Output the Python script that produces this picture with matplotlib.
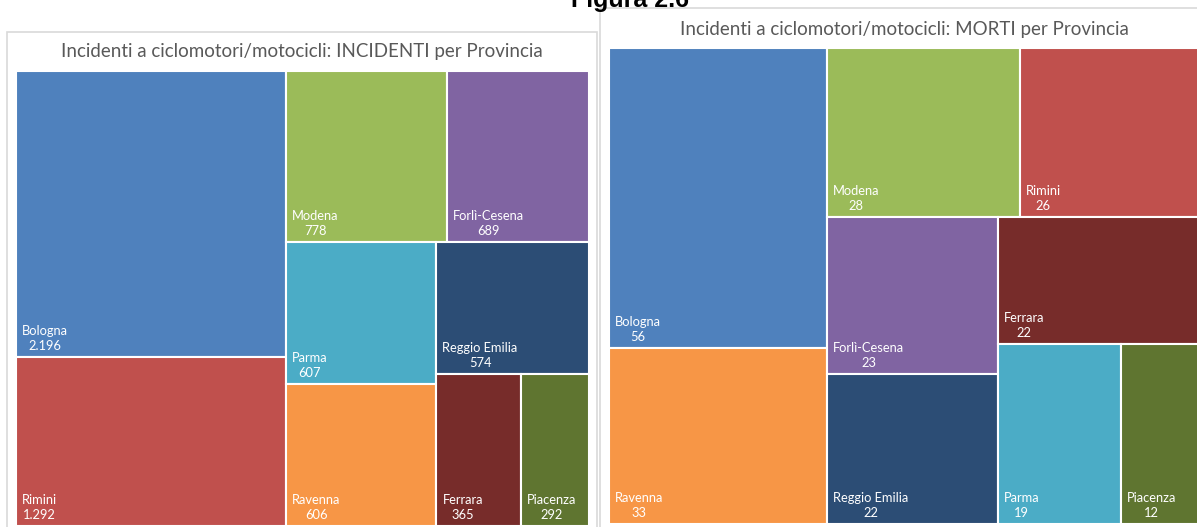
import matplotlib
matplotlib.use("Agg")
import matplotlib.pyplot as plt
from matplotlib.patches import Rectangle

# ---------------- data ----------------
provinces = ["Bologna", "Rimini", "Modena", "Forlì-Cesena", "Parma",
             "Ravenna", "Reggio Emilia", "Ferrara", "Piacenza"]
incidenti = [2196, 1292, 778, 689, 607, 606, 574, 365, 292]
morti = [56, 26, 28, 23, 19, 33, 22, 22, 12]
colors = ["#4F81BD", "#C0504D", "#9BBB59", "#8064A2", "#4BACC6",
          "#F79646", "#2C4D75", "#772C2A", "#5F7530"]
title_left = "Incidenti a ciclomotori/motocicli: INCIDENTI per Provincia"
title_right = "Incidenti a ciclomotori/motocicli: MORTI per Provincia"
fig_title = "Figura 2.6"

W, H, DPI = 1197, 527, 100
FONT = "Lato"


def worst(row, side):
    s = sum(row)
    t = s / side
    return max(max(t / (r / t), (r / t) / t) for r in row)


def squarify(vals, x, y, w, h):
    total = sum(v for _, v in vals)
    scale = w * h / total
    items = [(i, v * scale) for i, v in vals]
    out = {}
    while items:
        if len(items) == 1:
            out[items[0][0]] = (x, y, w, h)
            break
        side = h if w >= h else w
        row = [items[0]]
        k = 1
        while k < len(items):
            cand = row + [items[k]]
            if worst([a for _, a in cand], side) <= worst([a for _, a in row], side):
                row = cand
                k += 1
            else:
                break
        items = items[k:]
        s = sum(a for _, a in row)
        t = s / side
        pos = 0.0
        for i, a in row:
            l = a / t
            if w >= h:
                out[i] = (x, y + pos, t, l)
            else:
                out[i] = (x + pos, y, l, t)
            pos += l
        if w >= h:
            x += t
            w -= t
        else:
            y += t
            h -= t
    return out


def fmt(v):
    return f"{v:,}".replace(",", ".")


def draw_treemap(fig, values, px0, py0, px1, py1):
    ax = fig.add_axes([px0 / W, 1 - py1 / H, (px1 - px0) / W, (py1 - py0) / H])
    aw, ah = px1 - px0, py1 - py0
    order = sorted(range(len(values)), key=lambda i: -values[i])
    rects = squarify([(i, values[i]) for i in order], 0, 0, aw, ah)
    for i in order:
        rx, ry, rw, rh = rects[i]
        ax.add_patch(Rectangle((rx, ry), rw, rh, facecolor=colors[i],
                               edgecolor="white", linewidth=1.5))
        ax.annotate(f"{provinces[i]}\n{fmt(values[i])}", xy=(rx, ry + rh),
                    xytext=(6 * 0.72, 5 * 0.72), textcoords="offset points",
                    ha="left", va="bottom", multialignment="center",
                    color="white", fontsize=9.3, family=FONT, linespacing=1.3)
    ax.set_xlim(0, aw)
    ax.set_ylim(ah, 0)
    ax.axis("off")
    return ax


fig = plt.figure(figsize=(W / DPI, H / DPI), dpi=DPI)
fig.patch.set_facecolor("white")

# panel frames
fig.patches.append(Rectangle((7 / W, -0.1), (597 - 7) / W, 1.1 - 32 / H,
                             transform=fig.transFigure, fill=False,
                             edgecolor="#D9D9D9", linewidth=1.2))
fig.patches.append(Rectangle((600 / W, -0.1), 1.0, 1.1 - 8 / H,
                             transform=fig.transFigure, fill=False,
                             edgecolor="#D9D9D9", linewidth=1.2))

draw_treemap(fig, incidenti, 16, 71, 589, 526)
draw_treemap(fig, morti, 609, 48, 1199, 524)

fig.text(302 / W, 1 - 52 / H, title_left, ha="center", va="center",
         fontsize=13.5, color="#595959", family=FONT)
fig.text(904 / W, 1 - 30 / H, title_right, ha="center", va="center",
         fontsize=13.5, color="#595959", family=FONT)
fig.text(630 / W, 1 - 7 / H, fig_title, ha="center", va="baseline",
         fontsize=18, fontweight="bold", color="black", family="Liberation Sans")

fig.savefig("out.png", dpi=DPI)
